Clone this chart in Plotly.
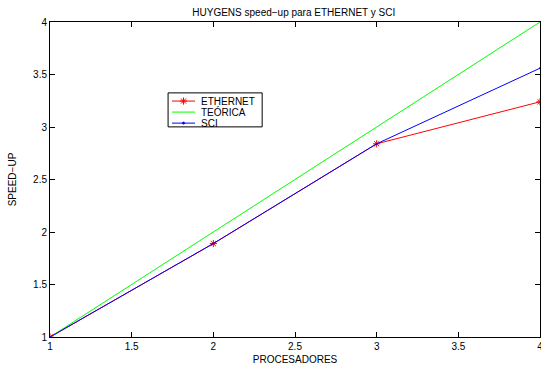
import plotly.graph_objects as go

procesadores = [1, 2, 3, 4]
ethernet = [1.0, 1.89, 2.84, 3.24]
teorica = [1, 2, 3, 4]
sci = [1.0, 1.89, 2.84, 3.56]

series_names = ["ETHERNET", "TEÓRICA", "SCI"]
series_colors = ["#ff0000", "#00ff00", "#0000ff"]

x_ticks = [1, 1.5, 2, 2.5, 3, 3.5, 4]
y_ticks = [1, 1.5, 2, 2.5, 3, 3.5, 4]

font = "Liberation Sans, Arial, Helvetica, sans-serif"

fig = go.Figure()
fig.add_trace(go.Scatter(x=procesadores, y=ethernet, name=series_names[0], mode="lines+markers",
                         line=dict(color=series_colors[0], width=1),
                         marker=dict(symbol="asterisk-open", size=6, color=series_colors[0],
                                     line=dict(color=series_colors[0], width=1)),
                         showlegend=False))
fig.add_trace(go.Scatter(x=procesadores, y=teorica, name=series_names[1], mode="lines",
                         line=dict(color=series_colors[1], width=1), showlegend=False))
fig.add_trace(go.Scatter(x=procesadores, y=sci, name=series_names[2], mode="lines+markers",
                         line=dict(color=series_colors[2], width=1),
                         marker=dict(symbol="circle", size=2, color=series_colors[2]),
                         showlegend=False))

# Compact legend (MATLAB style) drawn on an overlay axis spanning the plot area
leg_x0, leg_x1 = 0.241, 0.433
leg_y0, leg_y1 = 0.667, 0.775
item_y = [0.749, 0.714, 0.679]
line_x = [0.249, 0.296]
text_x = 0.304
symbols = ["asterisk-open", None, "circle"]
sizes = [6, 0, 2]
for name, col, yy, sym, sz in zip(series_names, series_colors, item_y, symbols, sizes):
    fig.add_trace(go.Scatter(x=line_x, y=[yy, yy], xaxis="x2", yaxis="y2", mode="lines",
                             line=dict(color=col, width=1), showlegend=False, hoverinfo="skip"))
    if sym:
        fig.add_trace(go.Scatter(x=[(line_x[0] + line_x[1]) / 2], y=[yy], xaxis="x2", yaxis="y2",
                                 mode="markers",
                                 marker=dict(symbol=sym, size=sz, color=col, line=dict(color=col, width=1)),
                                 showlegend=False, hoverinfo="skip"))
    fig.add_annotation(x=text_x, y=yy, xref="x2", yref="y2", text=name, showarrow=False,
                       xanchor="left", yanchor="middle",
                       font=dict(family=font, size=10, color="black"))

fig.add_shape(type="rect", xref="x2", yref="y2", x0=leg_x0, x1=leg_x1, y0=leg_y0, y1=leg_y1,
              line=dict(color="black", width=1), fillcolor="rgba(0,0,0,0)", layer="below")

axis_common = dict(showgrid=False, zeroline=False, showline=True, linecolor="black", linewidth=1,
                   mirror="ticks", ticks="inside", ticklen=5, tickcolor="black",
                   ticklabeloverflow="allow", automargin=False,
                   tickfont=dict(family=font, size=10, color="black"))

fig.update_layout(
    width=541, height=371,
    margin=dict(l=50, r=1, t=22, b=34, autoexpand=False),
    paper_bgcolor="white", plot_bgcolor="white",
    title=dict(text="HUYGENS speed−up para ETHERNET y SCI", x=0.543, xanchor="center",
               y=0.975, yanchor="top",
               font=dict(family=font, size=10, color="black")),
    xaxis=dict(range=[1, 4], tickvals=x_ticks, ticktext=[f"{v:g}" for v in x_ticks],
               title=dict(text="PROCESADORES", font=dict(family=font, size=10, color="black"), standoff=4),
               **axis_common),
    yaxis=dict(range=[1, 4], tickvals=y_ticks, ticktext=[f"{v:g}" for v in y_ticks],
               title=dict(text="SPEED−UP", font=dict(family=font, size=10, color="black"), standoff=14),
               **axis_common),
    xaxis2=dict(range=[0, 1], overlaying="x", visible=False, fixedrange=True),
    yaxis2=dict(range=[0, 1], overlaying="y", visible=False, fixedrange=True),
    showlegend=False,
)

fig.write_html("out.html")
